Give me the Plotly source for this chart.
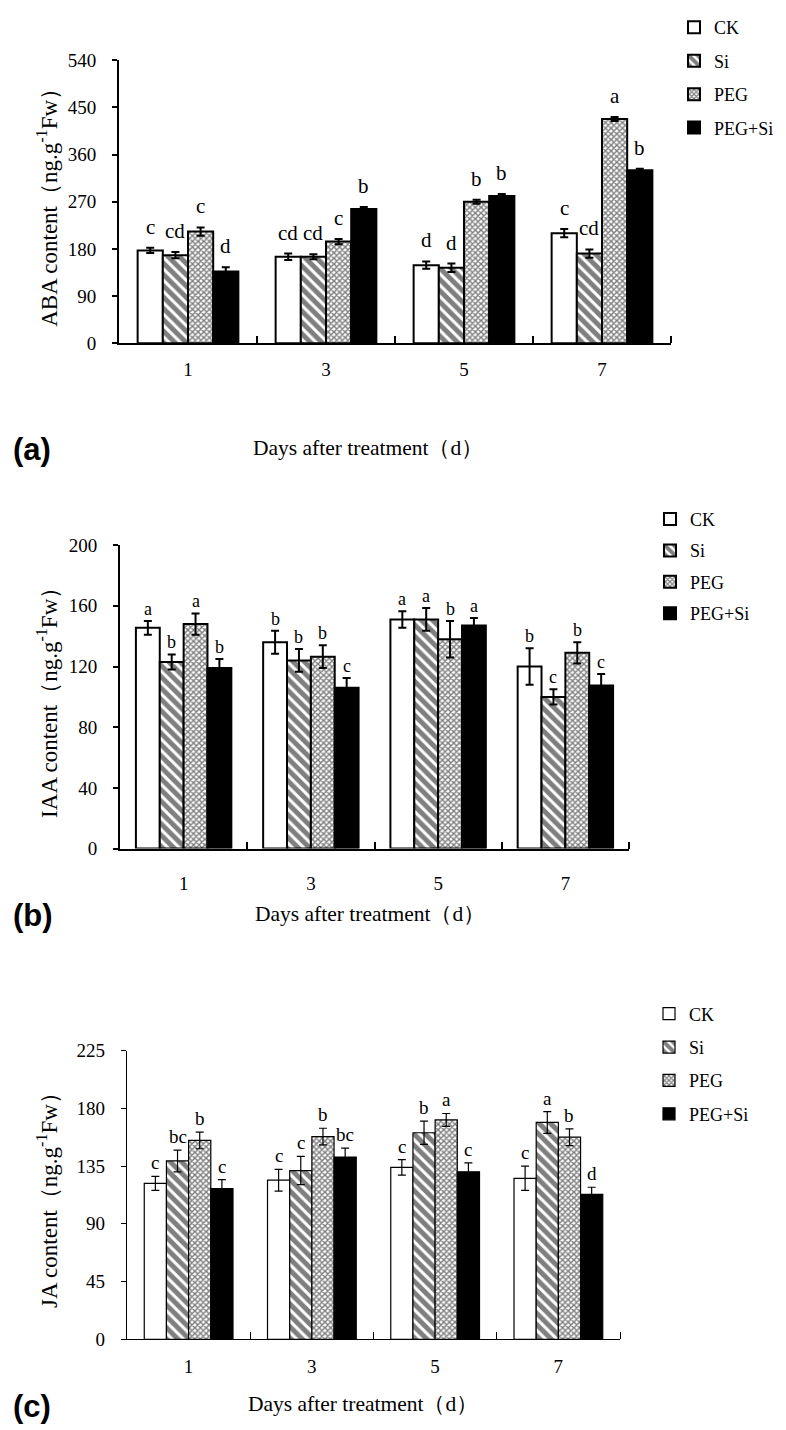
import plotly.graph_objects as go

W, H = 786, 1430

days = ["1", "3", "5", "7"]
series = ["CK", "Si", "PEG", "PEG+Si"]

# (a) ABA
aba_ck = [177, 165, 149, 210]
aba_si = [168, 165, 144, 171]
aba_peg = [213, 194, 270, 428]
aba_pegsi = [137, 256, 281, 330]
aba_ck_err = [5, 6, 7, 8]
aba_si_err = [6, 5, 8, 8]
aba_peg_err = [8, 5, 4, 4]
aba_pegsi_err = [8, 4, 4, 3]
aba_ck_let = ["c", "cd", "d", "c"]
aba_si_let = ["cd", "cd", "d", "cd"]
aba_peg_let = ["c", "c", "b", "a"]
aba_pegsi_let = ["d", "b", "b", "b"]

# (b) IAA
iaa_ck = [145.5, 136, 151, 120]
iaa_si = [123, 124, 151, 100]
iaa_peg = [148, 126.5, 138, 129]
iaa_pegsi = [119, 106, 147, 107.5]
iaa_ck_err = [4.5, 7.5, 5.5, 12]
iaa_si_err = [5, 7.5, 7.5, 5]
iaa_peg_err = [7, 7.5, 12, 7]
iaa_pegsi_err = [6, 6.5, 5, 7.5]
iaa_ck_let = ["a", "b", "a", "b"]
iaa_si_let = ["b", "b", "a", "c"]
iaa_peg_let = ["a", "b", "b", "b"]
iaa_pegsi_let = ["b", "c", "a", "c"]

# (c) JA
ja_ck = [121.5, 124, 134, 125.5]
ja_si = [139, 131.5, 161, 169]
ja_peg = [155, 158, 171, 157.5]
ja_pegsi = [117.5, 142, 130.5, 113]
ja_ck_err = [5.5, 8.5, 6, 9.5]
ja_si_err = [8.5, 11, 9, 8.5]
ja_peg_err = [6.5, 6.5, 5, 6.5]
ja_pegsi_err = [7, 7, 7, 5.5]
ja_ck_let = ["c", "c", "c", "c"]
ja_si_let = ["bc", "c", "b", "a"]
ja_peg_let = ["b", "b", "a", "b"]
ja_pegsi_let = ["c", "bc", "c", "d"]

y_titles = ["ABA content（ng.g<sup>-1</sup>Fw）",
            "IAA content（ng.g<sup>-1</sup>Fw）",
            "JA content（ng.g<sup>-1</sup>Fw）"]
x_title = "Days after treatment（d）"
panel_labels = ["(a)", "(b)", "(c)"]
y_ranges = [[0, 540], [0, 200], [0, 225]]
y_dticks = [90, 40, 45]

data = [
    ([aba_ck, aba_si, aba_peg, aba_pegsi],
     [aba_ck_err, aba_si_err, aba_peg_err, aba_pegsi_err],
     [aba_ck_let, aba_si_let, aba_peg_let, aba_pegsi_let]),
    ([iaa_ck, iaa_si, iaa_peg, iaa_pegsi],
     [iaa_ck_err, iaa_si_err, iaa_peg_err, iaa_pegsi_err],
     [iaa_ck_let, iaa_si_let, iaa_peg_let, iaa_pegsi_let]),
    ([ja_ck, ja_si, ja_peg, ja_pegsi],
     [ja_ck_err, ja_si_err, ja_peg_err, ja_pegsi_err],
     [ja_ck_let, ja_si_let, ja_peg_let, ja_pegsi_let]),
]

# layout (pixels)
panels = [
    dict(l=111, r=663, t=43, b=330, lw=2, bw=0.73, tick_sd=8, xt_y=436, xt_x=360,
         yt_x=40, leg_x=666, leg_y=-9, let_size=21, let_shift=7, leg_gap=7),
    dict(l=112, r=621, t=535, b=843, lw=2, bw=0.75, tick_sd=17, xt_y=909, xt_x=362,
         yt_x=40, leg_x=642, leg_y=490, let_size=18, let_shift=0, leg_gap=5),
    dict(l=119, r=612, t=1048, b=1341, lw=1.2, bw=0.72, tick_sd=10, xt_y=1407, xt_x=355,
         yt_x=40, leg_x=641, leg_y=992, let_size=19, let_shift=1, leg_gap=7),
]

SERIF = "Liberation Serif"
patterns = [
    dict(shape="", fillmode="replace"),
    dict(shape="\\", size=8, solidity=0.62, fgcolor="black", bgcolor="white"),
    dict(shape="x", size=4, solidity=0.6, fgcolor="black", bgcolor="white"),
    dict(shape="", fillmode="replace"),
]
fills = ["white", "white", "white", "black"]

def fx(p):
    return p / W

def fy(p):
    return 1 - p / H

fig = go.Figure()
pos = list(range(len(days)))

for k, (vals, errs, lets) in enumerate(data):
    P = panels[k]
    sfx = "" if k == 0 else str(k + 1)
    xa, ya = "x" + sfx, "y" + sfx
    leg = "legend" + sfx
    bw = P["bw"] / 4
    for i, name in enumerate(series):
        off = -2 * bw + i * bw
        fig.add_trace(go.Bar(
            x=pos, y=vals[i], name=name, width=bw, offset=off,
            xaxis=xa, yaxis=ya, legend=leg, legendgroup=f"{k}{i}",
            marker=dict(color=fills[i], pattern=patterns[i],
                        line=dict(color="black", width=P["lw"])),
            error_y=dict(type="data", array=errs[i], color="black",
                         thickness=P["lw"], width=4),
        ))
        for p, v, e, t in zip(pos, vals[i], errs[i], lets[i]):
            fig.add_annotation(
                x=p + off + bw / 2, y=v + e, text=t, xref=xa, yref=ya,
                showarrow=False, xanchor="center", yanchor="bottom",
                yshift=P["let_shift"],
                font=dict(family=SERIF, size=P["let_size"], color="black"))
    axis_common = dict(showline=True, linecolor="black", linewidth=P["lw"],
                       showgrid=False, zeroline=False)
    fig.layout["xaxis" + sfx] = dict(
        domain=[fx(P["l"]), fx(P["r"])], anchor=ya, range=[-0.5, 3.5],
        tickvals=pos, ticktext=days, ticks="", ticklen=0,
        tickfont=dict(family=SERIF, size=19, color="black"),
        minor=dict(tickvals=[0.5, 1.5, 2.5, 3.5], ticks="inside", ticklen=7,
                   tickwidth=P["lw"], tickcolor="black"),
        ticklabelstandoff=P["tick_sd"],
        **axis_common)
    fig.layout["yaxis" + sfx] = dict(
        domain=[fy(P["b"]), fy(P["t"])], anchor=xa, range=y_ranges[k],
        dtick=y_dticks[k], ticks="outside", ticklen=5, tickwidth=P["lw"],
        tickcolor="black", ticklabelstandoff=12,
        tickfont=dict(family=SERIF, size=19, color="black"),
        **axis_common)
    fig.layout[leg] = dict(
        x=fx(P["leg_x"]), y=fy(P["leg_y"]), xanchor="left", yanchor="top",
        font=dict(family=SERIF, size=18, color="black"),
        bgcolor="rgba(0,0,0,0)", tracegroupgap=P["leg_gap"], itemwidth=30)
    fig.add_annotation(
        text=x_title, x=fx(P["xt_x"]), y=fy(P["xt_y"]), xref="paper", yref="paper",
        showarrow=False, xanchor="center", yanchor="middle",
        font=dict(family=SERIF, size=21.5, color="black"))
    fig.add_annotation(
        text=y_titles[k], x=fx(P["yt_x"]), y=fy((P["t"] + P["b"]) / 2),
        xref="paper", yref="paper", textangle=-90,
        showarrow=False, xanchor="center", yanchor="middle",
        font=dict(family=SERIF, size=23, color="black"))
    fig.add_annotation(
        text="<b>" + panel_labels[k] + "</b>", x=fx(3), y=fy(P["xt_y"] + 2),
        xref="paper", yref="paper", showarrow=False, xanchor="left", yanchor="middle",
        font=dict(family="Liberation Sans", size=31, color="black"))

fig.update_layout(
    width=W, height=H, margin=dict(l=0, r=0, t=0, b=0),
    plot_bgcolor="white", paper_bgcolor="white", showlegend=True,
    barmode="overlay",
)

fig.write_html("out.html")
